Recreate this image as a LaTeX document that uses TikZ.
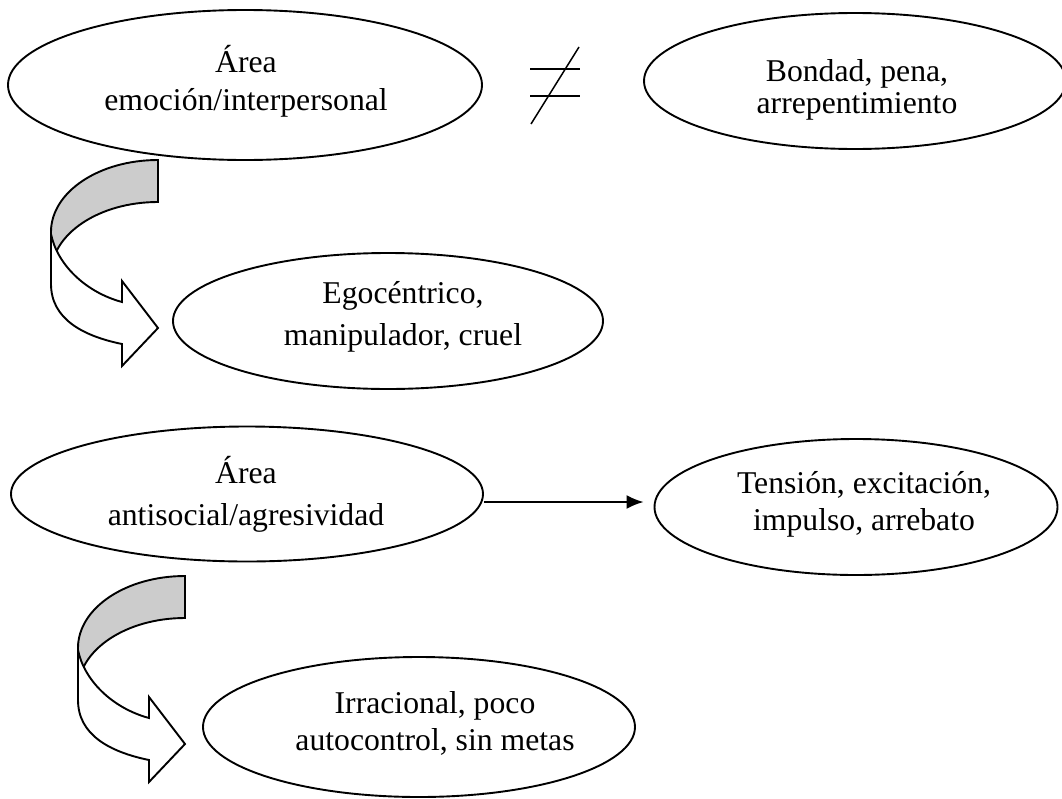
\documentclass[tikz,border=0pt]{standalone}
\usepackage{fontspec}
\setmainfont{Liberation Serif}
\usetikzlibrary{shapes.geometric,arrows.meta}
\begin{document}
\begin{tikzpicture}[x=1pt,y=-1pt,
  ell/.style={draw, ellipse, line width=1.9pt, inner sep=0pt},
  lbl/.style={anchor=base, inner sep=0pt, font=\fontsize{31.7}{38}\selectfont},
  band/.style={draw, line width=1.9pt, line join=miter},
  curvarrow/.pic={
    \path[band, fill=gray!40] (0,0) .. controls (-59,0) and (-107,32) .. (-107,72)
      -- (-107,114) .. controls (-107,74) and (-59,42) .. (0,42) -- cycle;
    \path[band, fill=white] (-107,74) .. controls (-101,104) and (-73,132) .. (-36,142)
      -- (-36,121) -- (0,168) -- (-36,206) -- (-36,184)
      .. controls (-75,176) and (-107,159) .. (-107,124) -- cycle;
  }
]
\useasboundingbox[fill=white] (0,0) rectangle (1062,798);

% ellipses
\node[ell, minimum width=474pt, minimum height=150pt] (e1) at (245,85) {};
\node[ell, minimum width=422pt, minimum height=136pt] (e2) at (855,81) {};
\node[ell, minimum width=430pt, minimum height=136pt] (e3) at (388,321) {};
\node[ell, minimum width=472pt, minimum height=135pt] (e4) at (247,494) {};
\node[ell, minimum width=403pt, minimum height=136pt] (e5) at (856,507) {};
\node[ell, minimum width=432pt, minimum height=140pt] (e6) at (419,727) {};

% texts
\node[lbl] (t1a) at (246,72) {Área};
\node[lbl] (t1b) at (246,110) {emoción/interpersonal};
\node[lbl] (t2a) at (857,81) {Bondad, pena,};
\node[lbl] (t2b) at (857,113) {arrepentimiento};
\node[lbl] (t3a) at (403,303) {Egocéntrico,};
\node[lbl] (t3b) at (403,345) {manipulador, cruel};
\node[lbl] (t4a) at (246,483) {Área};
\node[lbl] (t4b) at (246,525) {antisocial/agresividad};
\node[lbl] (t5a) at (864,493) {Tensión, excitación,};
\node[lbl] (t5b) at (864,530) {impulso, arrebato};
\node[lbl] (t6a) at (435,713) {Irracional, poco};
\node[lbl] (t6b) at (435,750) {autocontrol, sin metas};

% not-equal sign
\draw[line width=1.8pt] (530,69) -- (580,69);
\draw[line width=1.8pt] (530,96) -- (580,96);
\draw[line width=1.5pt] (531,124) -- (579,47);

% curved arrows
\pic at (158,160) {curvarrow};
\pic at (185,576) {curvarrow};

% straight arrow
\draw[line width=1.9pt, -{Latex[length=17pt,width=14pt]}]
  ([yshift=-8pt]e4.east) -- ([xshift=-10pt,yshift=-8pt]e4.east -| e5.west);
\end{tikzpicture}
\end{document}
